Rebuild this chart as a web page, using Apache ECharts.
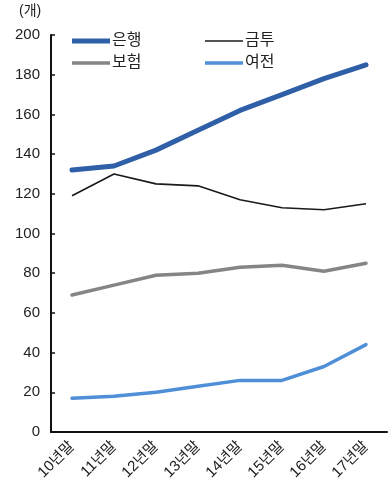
<!DOCTYPE html>
<html>
<head>
<meta charset="utf-8">
<script src="https://cdn.jsdelivr.net/npm/echarts@6/dist/echarts.min.js"></script>
<style>
html,body{margin:0;padding:0;background:#fff;}
#chart{width:388px;height:490px;}
</style>
</head>
<body>
<div id="chart"></div>
<script>
// Number of institutions by sector, year-end
const categories = ['10년말','11년말','12년말','13년말','14년말','15년말','16년말','17년말'];
const bank = [132,134,142,152,162,170,178,185];       // 은행
const securities = [119,130,125,124,117,113,112,115]; // 금투
const insurance = [69,74,79,80,83,84,81,85];          // 보험
const creditFin = [17,18,20,23,26,26,33,44];          // 여전
const yTicks = { min: 0, max: 200, interval: 20 };

const FONT = '"Liberation Sans", "Noto Sans CJK KR", sans-serif';
const chart = echarts.init(document.getElementById('chart'), null, { renderer: 'canvas' });

// Legend icon: a 38x14 box whose filled part is a centred bar of the
// series line thickness (the two bare moveTo points fix the box size).
function barIcon(t) {
  const a = 7 - t / 2, b = 7 + t / 2;
  return 'path://M0,0 L0,0 M38,14 L38,14 M0,' + a + ' L38,' + a + ' L38,' + b + ' L0,' + b + ' Z';
}

// One legend entry per box so the 2x2 layout can be placed freely.
function legendAt(name, left, centerY, thickness) {
  return {
    data: [{ name: name, icon: barIcon(thickness) }],
    left: left, top: centerY - 7, orient: 'horizontal',
    itemWidth: 38, itemHeight: 14, itemGap: 0, padding: 0,
    textStyle: { fontSize: 16, color: '#222', fontFamily: FONT, padding: [0, 0, 0, -3] }
  };
}

chart.setOption({
  animation: false,
  textStyle: { fontFamily: FONT },
  graphic: [{
    type: 'text', left: 19, top: 4,
    style: { text: '(개)', fontSize: 14, fill: '#222', fontFamily: FONT }
  }],
  legend: [
    legendAt('은행', 72, 40, 5),
    legendAt('금투', 205, 40, 1.6),
    legendAt('보험', 72, 62, 3.5),
    legendAt('여전', 205, 62, 3.5)
  ],
  grid: { left: 51, right: 1, top: 35, bottom: 58, containLabel: false },
  xAxis: {
    type: 'category', data: categories, boundaryGap: true,
    axisLine: { lineStyle: { color: '#111', width: 2 } },
    axisTick: { inside: true, length: 4, lineStyle: { color: '#111', width: 1.5 } },
    axisLabel: { rotate: 45, fontSize: 15, color: '#222', margin: 12, fontFamily: FONT }
  },
  yAxis: {
    type: 'value', min: yTicks.min, max: yTicks.max, interval: yTicks.interval,
    axisLine: { show: true, lineStyle: { color: '#111', width: 2 } },
    axisTick: { show: true, inside: true, length: 4, lineStyle: { color: '#111', width: 1.5 } },
    splitLine: { show: false },
    axisLabel: { fontSize: 15, color: '#222', margin: 11, fontFamily: FONT }
  },
  series: [
    { name: '은행', type: 'line', data: bank, symbol: 'none',
      lineStyle: { color: '#2f5fa6', width: 5, cap: 'round' }, itemStyle: { color: '#2f5fa6' } },
    { name: '금투', type: 'line', data: securities, symbol: 'none',
      lineStyle: { color: '#1a1a1a', width: 1.6 }, itemStyle: { color: '#1a1a1a' } },
    { name: '보험', type: 'line', data: insurance, symbol: 'none',
      lineStyle: { color: '#858585', width: 3.5, cap: 'round' }, itemStyle: { color: '#858585' } },
    { name: '여전', type: 'line', data: creditFin, symbol: 'none',
      lineStyle: { color: '#4f8fd8', width: 3.5, cap: 'round' }, itemStyle: { color: '#4f8fd8' } }
  ]
});
</script>
</body>
</html>
